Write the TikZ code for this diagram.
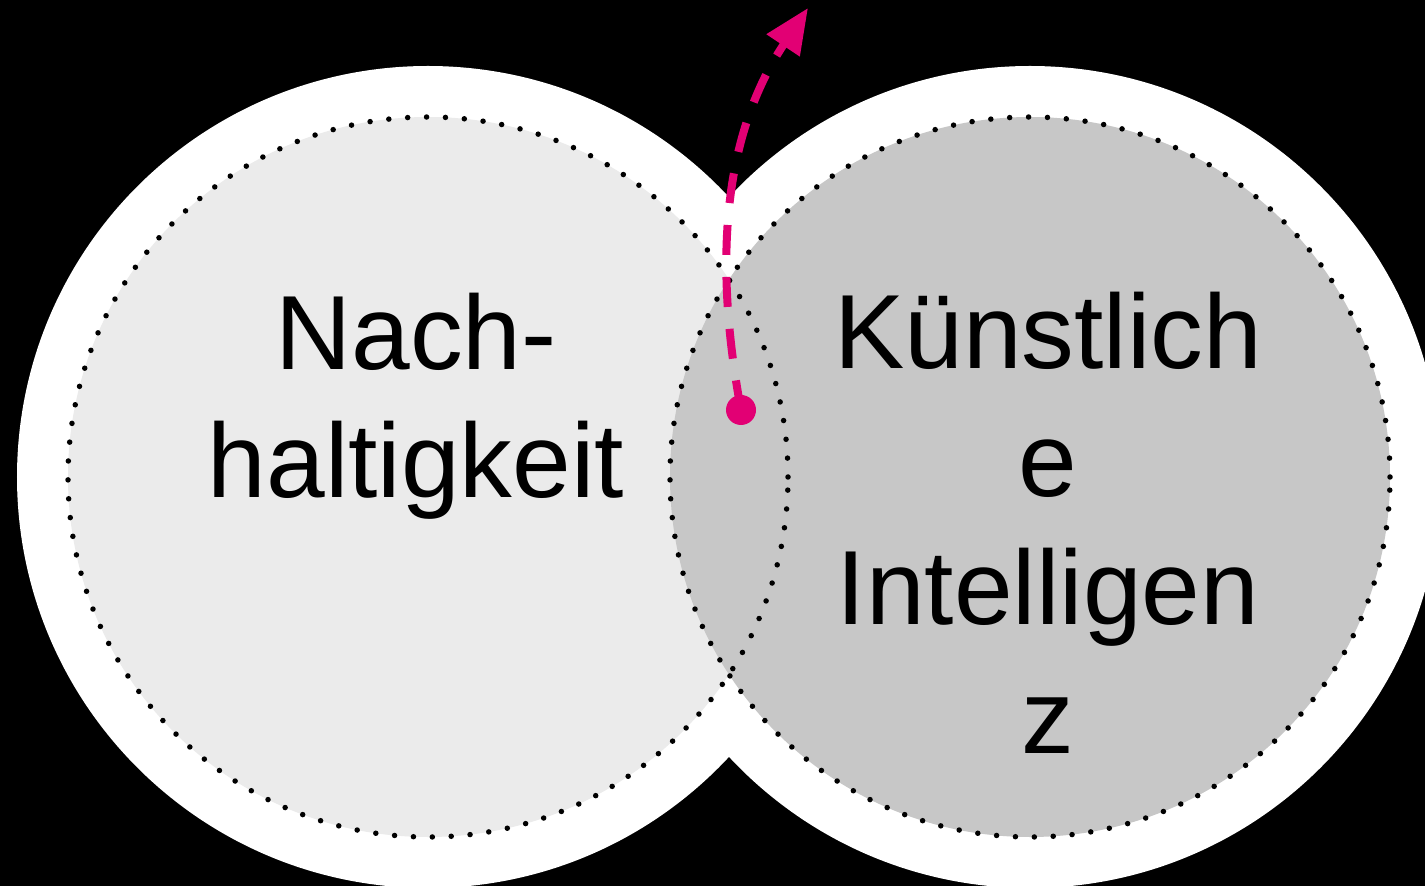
\documentclass[tikz,border=0pt]{standalone}
\usepackage{fontspec}
\setmainfont{Liberation Sans}
\usepackage{xcolor}
\usetikzlibrary{arrows.meta, positioning, calc}
\definecolor{magentaT}{HTML}{E20074}
\definecolor{lightgrey}{HTML}{EBEBEB}
\definecolor{midgrey}{HTML}{C7C7C7}

\begin{document}
\begin{tikzpicture}[
    outer/.style={circle, fill=white, inner sep=0pt, minimum size=16.44cm},
    area/.style={circle, inner sep=0pt, minimum size=14.4cm},
    dotring/.style={line width=0.11cm, line cap=round, dash pattern=on 0pt off 0.378cm},
    label/.style={font=\fontsize{60pt}{73pt}\selectfont, align=center, anchor=base, inner sep=0pt},
    arrow/.style={magentaT, line width=0.16cm, dash pattern=on 0.6cm off 0.44cm, -{Triangle[length=0.9cm, width=0.76cm]}}
]
    \fill [black] (0,0) rectangle (28.5,17.72);
    \clip (0,0) rectangle (28.5,17.72);

    \node [outer] (nachW) at (8.56, 8.18) {};
    \node [outer] (kiW) at (20.6, 8.18) {};
    \node [area, fill=lightgrey] (nach) at (8.56, 8.18) {};
    \node [area, fill=midgrey] (ki) at (20.6, 8.18) {};
    \draw [dotring] (nach.center) circle (7.2cm);
    \draw [dotring] (ki.center) circle (7.2cm);

    % base = baseline of the last line
    \node [label] (nachText) at (8.32, 7.76) {Nach-\\haltigkeit};
    \node [label] (kiText) at (20.96, 2.66) {Künstlich\\e\\Intelligen\\z};

    \node [circle, fill=magentaT, inner sep=0pt, minimum size=0.6cm] (start) at (14.82, 9.52) {};
    \coordinate (tip) at (16.16, 17.56);
    \draw [arrow] (start.center) .. controls (14.3, 12.32) and (14.4, 14.92) .. (tip);
\end{tikzpicture}
\end{document}
